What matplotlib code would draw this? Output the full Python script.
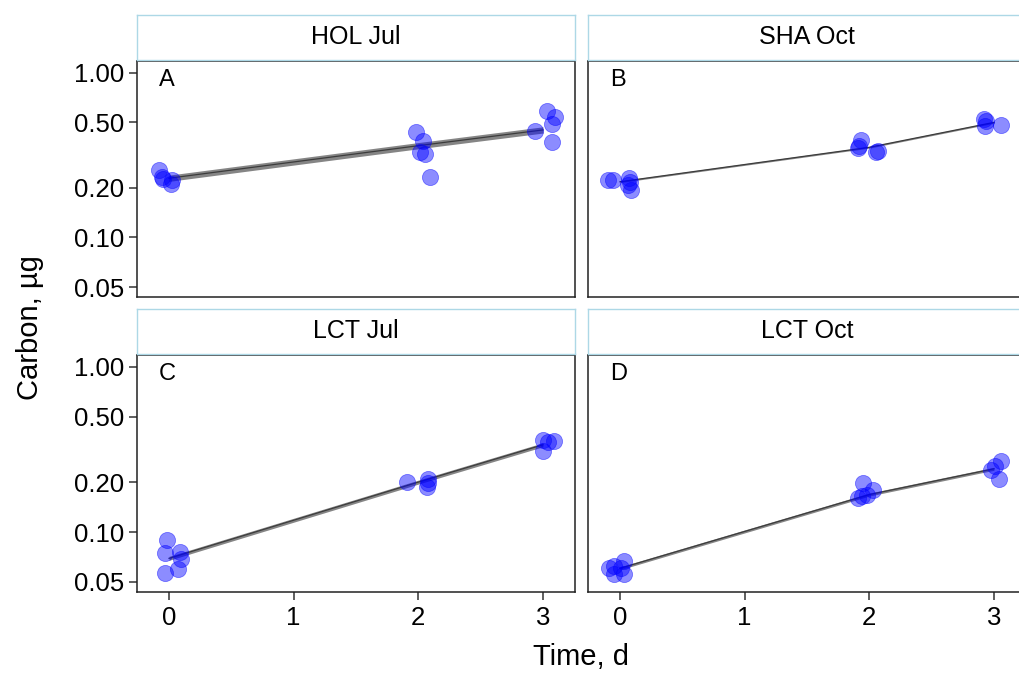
import matplotlib
import matplotlib.pyplot as plt
import numpy as np

matplotlib.use("Agg")

# ---------------------------------------------------------------------------
# Data (jittered sampling day, carbon in ug)
# ---------------------------------------------------------------------------
PANELS = ["HOL Jul", "SHA Oct", "LCT Jul", "LCT Oct"]
LETTERS = ["A", "B", "C", "D"]

hol_jul_t = [-0.08, -0.06, -0.045, 0.013, 0.02,
             1.98, 2.04, 2.01, 2.05, 2.09,
             2.94, 3.03, 3.10, 3.07, 3.07]
hol_jul_c = [0.257, 0.234, 0.227, 0.211, 0.222,
             0.435, 0.387, 0.329, 0.322, 0.234,
             0.445, 0.588, 0.536, 0.489, 0.378]

sha_oct_t = [-0.10, -0.06, 0.075, 0.088, 0.062, 0.083,
             1.93, 1.91, 2.07, 2.05, 1.92,
             2.92, 2.93, 3.06, 2.94]
sha_oct_c = [0.224, 0.222, 0.230, 0.195, 0.207, 0.216,
             0.391, 0.350, 0.337, 0.329, 0.361,
             0.524, 0.477, 0.484, 0.507]

lct_jul_t = [-0.02, -0.03, -0.03, 0.09, 0.075, 0.094,
             1.91, 2.08, 2.07, 2.08,
             3.00, 3.00, 3.09, 3.04]
lct_jul_c = [0.0895, 0.0745, 0.0565, 0.0762, 0.0597, 0.0685,
             0.201, 0.210, 0.189, 0.198,
             0.361, 0.311, 0.354, 0.349]

lct_oct_t = [-0.086, -0.046, 0.03, 0.034, 0.008, -0.046,
             1.95, 1.91, 2.03, 1.98, 1.94,
             3.06, 2.98, 3.04, 3.01]
lct_oct_c = [0.0605, 0.0559, 0.0673, 0.0559, 0.0605, 0.0625,
             0.198, 0.162, 0.179, 0.167, 0.165,
             0.269, 0.238, 0.210, 0.253]

# fitted curve at the nominal sampling days, with ribbon half-width (log10)
fit_days = [0, 2, 3]
hol_jul_fit = [0.229, 0.361, 0.450]
sha_oct_fit = [0.218, 0.353, 0.500]
lct_jul_fit = [0.0695, 0.201, 0.338]
lct_oct_fit = [0.0605, 0.169, 0.242]
ribbon_hw = [0.019, 0.005, 0.012, 0.009]

series = [
    (hol_jul_t, hol_jul_c, hol_jul_fit),
    (sha_oct_t, sha_oct_c, sha_oct_fit),
    (lct_jul_t, lct_jul_c, lct_jul_fit),
    (lct_oct_t, lct_oct_c, lct_oct_fit),
]

y_ticks = [0.05, 0.10, 0.20, 0.50, 1.00]
x_ticks = [0, 1, 2, 3]

STRIP_EDGE = "#add8e6"
FONT = ["Liberation Sans", "Arial", "DejaVu Sans"]

plt.rcParams.update({
    "font.family": FONT,
    "text.color": "black",
    "xtick.color": "#333333",
    "ytick.color": "#333333",
    "xtick.labelcolor": "black",
    "ytick.labelcolor": "black",
})

W, H = 1020, 673
fig = plt.figure(figsize=(W / 100, H / 100), dpi=100)

# panel boxes in pixels (left, top, right, bottom)
boxes = [(137, 61, 575, 297), (588, 61, 1026, 297),
         (137, 355, 575, 592), (588, 355, 1026, 592)]
STRIP_H = 45

for i, (t, c, fit) in enumerate(series):
    l, top, r, b = boxes[i]
    ax = fig.add_axes([l / W, 1 - b / H, (r - l) / W, (b - top) / H])

    fit = np.array(fit)
    lo = fit * 10 ** (-ribbon_hw[i])
    hi = fit * 10 ** (ribbon_hw[i])
    ax.fill_between(fit_days, lo, hi, color="#707070", alpha=0.85, lw=0, zorder=2)
    ax.plot(fit_days, fit, color="#3c3c3c", lw=0.9, zorder=3)
    ax.scatter(t, c, s=135, color="#0000ff", alpha=0.45,
               edgecolors="#0000ff", linewidths=0.6, zorder=4)

    ax.set_yscale("log")
    ax.set_ylim(0.0435, 1.18)
    ax.set_xlim(-0.257, 3.257)
    ax.minorticks_off()
    ax.set_yticks(y_ticks)
    ax.set_xticks(x_ticks)

    left_col = i % 2 == 0
    bottom_row = i >= 2
    ax.tick_params(axis="y", direction="out", length=6, width=1.1,
                   labelsize=18.5, pad=3, left=left_col, labelleft=left_col)
    ax.tick_params(axis="x", direction="out", length=6, width=1.1,
                   labelsize=18.5, pad=4, bottom=bottom_row, labelbottom=bottom_row)
    if left_col:
        ax.set_yticklabels([f"{v:.2f}" for v in y_ticks])
    for sp in ax.spines.values():
        sp.set_color("#222222")
        sp.set_linewidth(1.1)

    ax.text(0.05, 0.92, LETTERS[i], transform=ax.transAxes,
            fontsize=17, ha="left", va="center")

    # facet strip above the panel
    sax = fig.add_axes([l / W, 1 - (top - 1) / H, (r - l) / W, STRIP_H / H])
    sax.set_xticks([])
    sax.set_yticks([])
    for sp in sax.spines.values():
        sp.set_color(STRIP_EDGE)
        sp.set_linewidth(1.0)
    sax.text(0.5, 0.5, PANELS[i], transform=sax.transAxes,
             fontsize=18, ha="center", va="center")

fig.text(30 / W, 1 - 328 / H, "Carbon, \u00b5g", rotation=90,
         fontsize=21, ha="center", va="center")
fig.text(581 / W, 8 / H, "Time, d", fontsize=21, ha="center", va="baseline")

fig.savefig("out.png", dpi=100)
